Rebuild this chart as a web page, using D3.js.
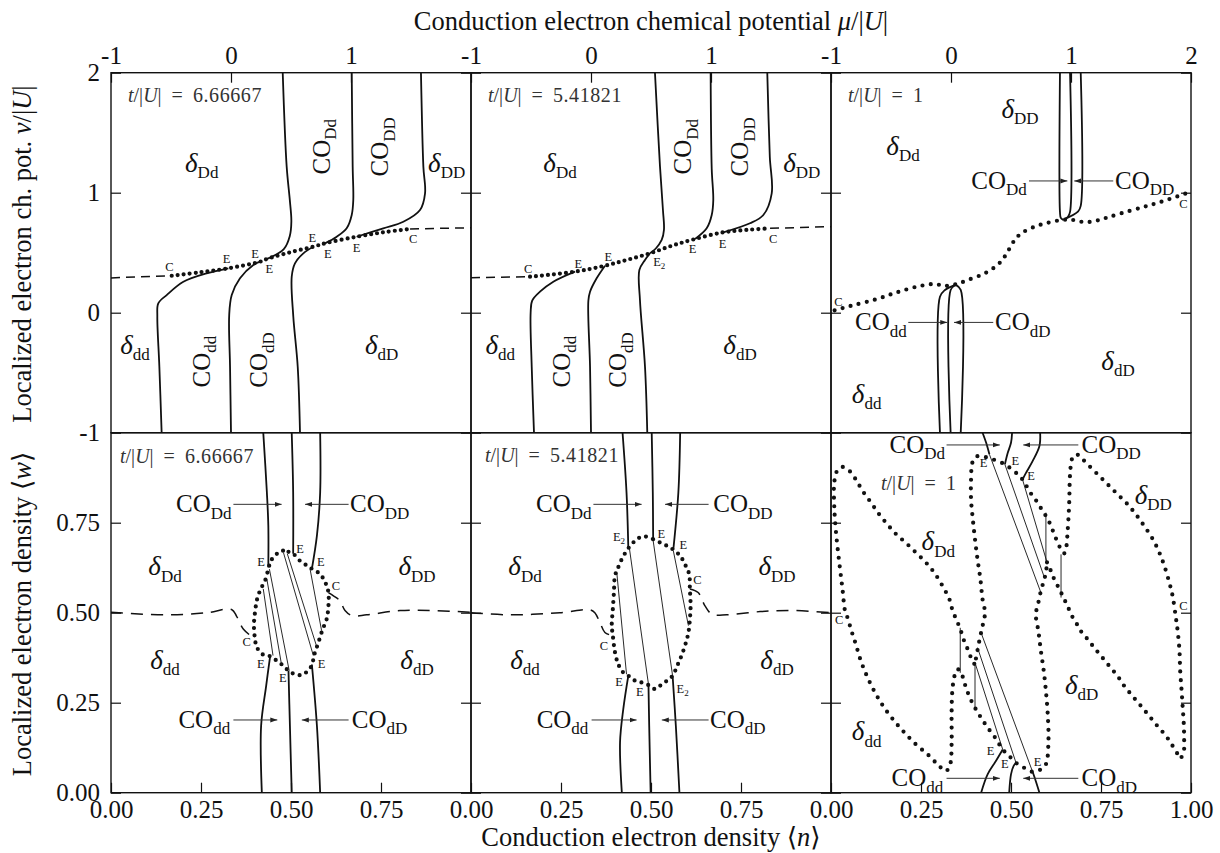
<!DOCTYPE html>
<html><head><meta charset="utf-8">
<script src="https://cdn.jsdelivr.net/npm/d3@7"></script>
<style>
body{margin:0;background:#fff;}
svg, svg text, svg tspan{font-family:"Liberation Serif","DejaVu Serif",serif !important;}
svg text{fill:#111;}
.tick text{font-size:25px;}
</style></head><body><svg id="c" width="1220" height="853" font-family="Liberation Serif"></svg>
<script>
// ---------------- DATA ----------------
const tValues = ["6.66667","5.41821","1"];
const muTickLabels = [[-1,0,1],[-1,0,1],[-1,0,1,2]];
const nuTickLabels = [-1,0,1,2];
const nTickLabels = [[0,0.25,0.5,0.75],[0,0.25,0.5,0.75],[0,0.25,0.5,0.75,1]];
const wTickLabels = [0,0.25,0.5,0.75];

// top row (mu, nu) — panel t=6.66667
const a1Dot = [[-0.494,0.308],[-0.258,0.337],[-0.022,0.370],[0.242,0.425],[0.297,0.447],[0.492,0.503],[0.686,0.55],[0.783,0.578],[1.047,0.633],[1.269,0.67],[1.492,0.698]];
const a1DashL = [[-1,0.29],[-0.494,0.308]];
const a1DashR = [[1.492,0.698],[2,0.708]];
const a1L1 = [[-0.578,-1],[-0.597,-0.45],[-0.614,-0.03],[-0.606,0.078],[-0.536,0.147],[-0.397,0.258],[-0.203,0.328],[-0.022,0.370]];
const a1L2 = [[0,-1],[-0.008,-0.45],[-0.015,-0.02],[0.006,0.147],[0.075,0.287],[0.186,0.398],[0.242,0.425]];
const a1L3 = [[0.575,-1],[0.556,-0.45],[0.519,-0.03],[0.506,0.30],[0.533,0.411],[0.603,0.495],[0.686,0.55]];
const a1U1 = [[0.431,2],[0.464,1.217],[0.49,0.94],[0.503,0.76],[0.49,0.64],[0.44,0.53],[0.297,0.447]];
const a1U2 = [[1.006,2],[1.014,1.217],[1.019,0.939],[1.006,0.814],[0.964,0.703],[0.881,0.633],[0.783,0.578]];
const a1U3 = [[1.583,2],[1.603,1.217],[1.617,0.995],[1.575,0.856],[1.436,0.758],[1.269,0.703],[1.047,0.633]];

// panel t=5.41821
const a2Dot = [[-0.508,0.30],[-0.133,0.342],[0.117,0.392],[0.30,0.44],[0.492,0.495],[0.68,0.56],[0.867,0.614],[1.103,0.67],[1.30,0.69],[1.492,0.703]];
const a2DashL = [[-1,0.292],[-0.508,0.30]];
const a2DashR = [[1.492,0.703],[2,0.717]];
const a2L1 = [[-0.475,-1],[-0.494,-0.45],[-0.503,0.0],[-0.49,0.1],[-0.425,0.175],[-0.314,0.258],[-0.133,0.342]];
const a2L2 = [[0,-1],[-0.008,-0.45],[-0.022,0.1],[-0.008,0.175],[0.047,0.287],[0.117,0.392]];
const a2L3 = [[0.469,-1],[0.45,-0.45],[0.408,0.106],[0.403,0.356],[0.45,0.44],[0.492,0.495]];
const a2U1 = [[0.533,2],[0.575,1.217],[0.60,0.85],[0.608,0.69],[0.589,0.606],[0.54,0.535],[0.492,0.495]];
const a2U2 = [[0.997,2],[1.006,1.2],[1.019,0.939],[1.006,0.814],[0.964,0.703],[0.867,0.614]];
const a2U3 = [[1.469,2],[1.49,1.3],[1.506,0.995],[1.436,0.814],[1.325,0.745],[1.103,0.67]];

// panel t=1
const a3Dot = [[-0.97,0.02],[-0.84,0.056],[-0.63,0.11],[-0.45,0.17],[-0.27,0.22],[-0.136,0.239],[-0.053,0.223],[0.05,0.24],[0.142,0.273],[0.281,0.328],[0.39,0.40],[0.447,0.467],[0.531,0.606],[0.586,0.661],[0.697,0.717],[0.808,0.75],[0.919,0.772],[1.0,0.775],[1.086,0.758],[1.169,0.758],[1.278,0.786],[1.417,0.828],[1.611,0.883],[1.753,0.925],[1.961,0.995]];
const a3Va = [[0.908,2],[0.908,0.84],[0.915,0.79],[0.936,0.772]];
const a3Vb = [[0.992,2],[0.992,0.84],[0.975,0.80],[0.94,0.775]];
const a3Vc = [[1.081,2],[1.081,0.89],[1.06,0.845],[0.945,0.78]];
const a3Wa = [[-0.092,-1],[-0.092,0.133],[-0.05,0.189],[0.035,0.232]];
const a3Wb = [[-0.003,-1],[-0.003,0.189],[0.035,0.232]];
const a3Wc = [[0.081,-1],[0.081,0.19],[0.04,0.232]];

// bottom row (n, w) — panel t=6.66667
const b1Ell = [[0.474,0.672],[0.493,0.669],[0.506,0.664],[0.525,0.644],[0.544,0.631],[0.558,0.622],[0.581,0.607],[0.597,0.58],[0.604,0.556],[0.604,0.519],[0.599,0.482],[0.588,0.454],[0.576,0.417],[0.564,0.381],[0.558,0.354],[0.544,0.336],[0.53,0.327],[0.511,0.329],[0.493,0.339],[0.477,0.354],[0.46,0.367],[0.442,0.379],[0.423,0.383],[0.405,0.404],[0.4,0.427],[0.397,0.464],[0.4,0.501],[0.406,0.538],[0.416,0.566],[0.428,0.589],[0.437,0.621],[0.444,0.644],[0.46,0.663]];
const b1U1 = [[0.423,1.0],[0.433,0.834],[0.437,0.742],[0.437,0.626]];
const b1U2 = [[0.502,1.0],[0.506,0.834],[0.506,0.664]];
const b1U3 = [[0.581,1.0],[0.581,0.834],[0.572,0.714],[0.558,0.622]];
const b1L1 = [[0.419,0],[0.417,0.186],[0.431,0.297],[0.442,0.379]];
const b1L2 = [[0.502,0],[0.497,0.186],[0.493,0.339]];
const b1L3 = [[0.581,0],[0.572,0.186],[0.558,0.356]];
const b1Ties = [[[0.423,0.566],[0.45,0.381]],[[0.433,0.593],[0.474,0.354]],[[0.44,0.621],[0.495,0.339]],[[0.479,0.667],[0.562,0.381]],[[0.49,0.663],[0.572,0.404]],[[0.553,0.621],[0.585,0.45]]];
const b1DashL = [[0,0.501],[0.155,0.494],[0.266,0.5],[0.335,0.509],[0.349,0.49],[0.368,0.454],[0.4,0.427]];
const b1DashR = [[0.604,0.556],[0.618,0.547],[0.636,0.533],[0.65,0.506],[0.669,0.492],[0.71,0.494],[0.803,0.506],[0.896,0.506],[1.0,0.501]];

// panel t=5.41821
const b2Ell = [[0.483,0.712],[0.506,0.704],[0.525,0.695],[0.544,0.686],[0.562,0.675],[0.581,0.658],[0.594,0.635],[0.606,0.607],[0.608,0.566],[0.61,0.519],[0.608,0.482],[0.604,0.445],[0.597,0.417],[0.585,0.381],[0.573,0.353],[0.56,0.325],[0.544,0.311],[0.525,0.297],[0.511,0.288],[0.493,0.299],[0.474,0.306],[0.456,0.311],[0.437,0.325],[0.423,0.334],[0.409,0.357],[0.4,0.39],[0.394,0.436],[0.391,0.464],[0.394,0.51],[0.397,0.556],[0.4,0.603],[0.407,0.621],[0.419,0.649],[0.437,0.679],[0.456,0.7],[0.469,0.709]];
const b2U1 = [[0.421,1.0],[0.432,0.834],[0.437,0.68]];
const b2U2 = [[0.502,1.0],[0.505,0.834],[0.506,0.704]];
const b2U3 = [[0.581,1.0],[0.576,0.834],[0.562,0.675]];
const b2L1 = [[0.419,0],[0.414,0.14],[0.423,0.232],[0.437,0.325]];
const b2L2 = [[0.499,0],[0.495,0.186],[0.493,0.299]];
const b2L3 = [[0.579,0],[0.569,0.186],[0.56,0.325]];
const b2Ties = [[[0.405,0.611],[0.432,0.329]],[[0.44,0.679],[0.493,0.301]],[[0.506,0.7],[0.56,0.325]],[[0.562,0.672],[0.604,0.464]]];
const b2DashL = [[0,0.5],[0.108,0.494],[0.247,0.5],[0.331,0.508],[0.344,0.5],[0.358,0.473],[0.372,0.445],[0.394,0.436]];
const b2DashR = [[0.608,0.566],[0.631,0.556],[0.65,0.519],[0.669,0.496],[0.71,0.494],[0.803,0.503],[0.895,0.506],[1.0,0.5]];

// panel t=1
const b3Left = [[0.398,0.358],[0.389,0.375],[0.380,0.398],[0.370,0.421],[0.361,0.449],[0.350,0.477],[0.338,0.505],[0.329,0.537],[0.310,0.574],[0.287,0.611],[0.264,0.639],[0.236,0.667],[0.208,0.694],[0.181,0.718],[0.157,0.745],[0.134,0.773],[0.111,0.806],[0.088,0.838],[0.069,0.870],[0.051,0.894],[0.032,0.905],[0.017,0.894],[0.009,0.861],[0.009,0.796],[0.014,0.722],[0.023,0.639],[0.032,0.565],[0.039,0.505],[0.046,0.486],[0.057,0.449],[0.069,0.412],[0.083,0.366],[0.102,0.319],[0.125,0.273],[0.148,0.236],[0.176,0.199],[0.204,0.167],[0.236,0.134],[0.269,0.106],[0.296,0.079],[0.319,0.060],[0.331,0.079],[0.335,0.134],[0.335,0.218],[0.337,0.282],[0.343,0.324],[0.352,0.343],[0.363,0.329],[0.372,0.301],[0.384,0.268],[0.4,0.236],[0.417,0.208],[0.435,0.181],[0.456,0.153],[0.477,0.120],[0.495,0.102],[0.514,0.083],[0.537,0.069],[0.56,0.058],[0.583,0.065],[0.597,0.079],[0.604,0.144],[0.602,0.218],[0.597,0.282],[0.591,0.338],[0.583,0.394],[0.576,0.449],[0.569,0.495],[0.576,0.528],[0.583,0.56],[0.591,0.588],[0.597,0.611],[0.600,0.640]];
const b3Right = [[0.600,0.640],[0.613,0.611],[0.62,0.593],[0.63,0.574],[0.639,0.556],[0.648,0.537],[0.657,0.519],[0.667,0.495],[0.681,0.472],[0.694,0.449],[0.713,0.426],[0.731,0.403],[0.75,0.38],[0.773,0.352],[0.796,0.324],[0.815,0.296],[0.838,0.268],[0.861,0.241],[0.884,0.213],[0.907,0.185],[0.931,0.157],[0.949,0.13],[0.963,0.107],[0.970,0.095],[0.98,0.116],[0.981,0.144],[0.98,0.19],[0.977,0.236],[0.974,0.282],[0.970,0.338],[0.968,0.394],[0.963,0.449],[0.958,0.486],[0.949,0.546],[0.94,0.583],[0.926,0.63],[0.912,0.667],[0.894,0.704],[0.87,0.741],[0.847,0.773],[0.824,0.801],[0.796,0.829],[0.769,0.856],[0.741,0.884],[0.713,0.912],[0.694,0.931],[0.681,0.940],[0.669,0.926],[0.665,0.898],[0.663,0.861],[0.662,0.815],[0.66,0.769],[0.657,0.722],[0.654,0.685],[0.648,0.665],[0.639,0.676],[0.63,0.694],[0.62,0.718],[0.611,0.741],[0.6,0.764],[0.588,0.782],[0.574,0.806],[0.56,0.824],[0.546,0.847],[0.532,0.870],[0.519,0.884],[0.5,0.9],[0.483,0.912],[0.463,0.921],[0.444,0.928],[0.426,0.933],[0.407,0.935],[0.396,0.926],[0.391,0.907],[0.389,0.870],[0.389,0.815],[0.394,0.759],[0.4,0.704],[0.407,0.648],[0.415,0.593],[0.421,0.537],[0.428,0.5],[0.424,0.477],[0.419,0.454],[0.414,0.431],[0.409,0.407],[0.405,0.384],[0.4,0.361]];
const b3U1 = [[0.421,1.0],[0.431,0.972],[0.44,0.94]];
const b3U2 = [[0.503,1.0],[0.5,0.972],[0.491,0.944],[0.483,0.912]];
const b3U3 = [[0.581,1.0],[0.579,0.963],[0.56,0.921],[0.542,0.889],[0.532,0.870]];
const b3L1 = [[0.417,0],[0.435,0.051],[0.458,0.088],[0.477,0.12]];
const b3L2 = [[0.495,0],[0.5,0.051],[0.507,0.074],[0.514,0.083]];
const b3L3 = [[0.579,0],[0.569,0.032],[0.56,0.058]];
const b3Ties = [[[0.417,0.444],[0.56,0.058]],[[0.407,0.403],[0.514,0.083]],[[0.4,0.361],[0.477,0.12]],[[0.44,0.94],[0.583,0.556]],[[0.483,0.912],[0.593,0.597]],[[0.532,0.870],[0.6,0.64]],[[0.359,0.458],[0.359,0.333]],[[0.4,0.361],[0.4,0.236]],[[0.597,0.778],[0.597,0.644]],[[0.639,0.662],[0.639,0.542]]];

// ---------------- ANNOTATIONS ----------------
const regionLabels = [
 [0,0,"δ","Dd",-0.244,1.231,0],[0,0,"CO","Dd",0.756,1.383,1],[0,0,"CO","DD",1.242,1.383,1],[0,0,"δ","DD",1.797,1.231,0],
 [0,0,"δ","dd",-0.8,-0.283,0],[0,0,"CO","dd",-0.244,-0.408,1],[0,0,"CO","dD",0.236,-0.394,1],[0,0,"δ","dD",1.256,-0.283,0],
 [1,0,"δ","Dd",-0.258,1.231,0],[1,0,"CO","Dd",0.769,1.383,1],[1,0,"CO","DD",1.242,1.383,1],[1,0,"δ","DD",1.756,1.231,0],
 [1,0,"δ","dd",-0.756,-0.283,0],[1,0,"CO","dd",-0.244,-0.408,1],[1,0,"CO","dD",0.228,-0.394,1],[1,0,"δ","dD",1.242,-0.283,0],
 [2,0,"δ","DD",0.575,1.681,0],[2,0,"δ","Dd",-0.4,1.373,0],[2,0,"δ","dD",1.392,-0.419,0],[2,0,"δ","dd",-0.703,-0.694,0],
 [0,1,"δ","Dd",0.15,0.623,0],[0,1,"δ","DD",0.85,0.623,0],[0,1,"δ","dd",0.15,0.364,0],[0,1,"δ","dD",0.85,0.364,0],
 [1,1,"δ","Dd",0.15,0.623,0],[1,1,"δ","DD",0.85,0.623,0],[1,1,"δ","dd",0.15,0.364,0],[1,1,"δ","dD",0.85,0.364,0],
 [2,1,"δ","DD",0.895,0.822,0],[2,1,"δ","Dd",0.298,0.693,0],[2,1,"δ","dD",0.696,0.294,0],[2,1,"δ","dd",0.099,0.165,0]
];
const arrowLabels = [
 [2,0,"Dd",0.631,1.098,"end",0.65,0.97],[2,0,"DD",1.367,1.098,"start",1.352,1.027],
 [2,0,"dd",-0.369,-0.081,"end",-0.356,-0.031],[2,0,"dD",0.367,-0.081,"start",0.352,0.025],
 [0,1,"Dd",0.335,0.801,"end",0.34,0.474],[0,1,"DD",0.664,0.801,"start",0.66,0.539],
 [0,1,"dd",0.331,0.202,"end",0.34,0.462],[0,1,"dD",0.669,0.202,"start",0.66,0.53],
 [1,1,"Dd",0.335,0.801,"end",0.34,0.474],[1,1,"DD",0.673,0.801,"start",0.66,0.539],
 [1,1,"dd",0.326,0.202,"end",0.335,0.46],[1,1,"dD",0.664,0.202,"start",0.66,0.53],
 [2,1,"Dd",0.317,0.966,"end",0.321,0.469],[2,1,"DD",0.696,0.966,"start",0.687,0.534],
 [2,1,"dd",0.312,0.04,"end",0.321,0.469],[2,1,"dD",0.696,0.04,"start",0.687,0.534]
];
const pointLabels = [
 [0,0,"C","",-0.514,0.383],[0,0,"E","",-0.036,0.453],[0,0,"E","",0.2,0.495],[0,0,"E","",0.319,0.37],
 [0,0,"E","",0.678,0.625],[0,0,"E","",0.806,0.495],[0,0,"E","",1.047,0.545],[0,0,"C","",1.519,0.62],
 [1,0,"C","",-0.523,0.37],[1,0,"E","",-0.106,0.412],[1,0,"E","",0.144,0.467],[1,0,"E","2",0.569,0.425],
 [1,0,"E","",0.847,0.537],[1,0,"E","",1.097,0.578],[1,0,"C","",1.519,0.62],
 [2,0,"C","",-0.939,0.092],[2,0,"C","",1.936,0.906],
 [0,1,"E","",0.417,0.642],[0,1,"E","",0.525,0.679],[0,1,"E","",0.583,0.642],[0,1,"C","",0.625,0.575],
 [0,1,"C","",0.377,0.419],[0,1,"E","",0.416,0.359],[0,1,"E","",0.477,0.319],[0,1,"E","",0.585,0.359],
 [1,1,"E","2",0.411,0.711],[1,1,"E","",0.529,0.721],[1,1,"E","",0.59,0.69],[1,1,"C","",0.629,0.591],
 [1,1,"C","",0.369,0.41],[1,1,"E","",0.411,0.308],[1,1,"E","",0.469,0.281],[1,1,"E","2",0.588,0.29],
 [2,1,"E","",0.424,0.917],[2,1,"E","",0.512,0.923],[2,1,"E","",0.556,0.88],
 [2,1,"E","",0.443,0.118],[2,1,"E","",0.483,0.081],[2,1,"E","",0.574,0.088],
 [2,1,"C","",0.023,0.48],[2,1,"C","",0.979,0.521]
];

// ---------------- DRAW ----------------
const FONT = "'Liberation Serif','DejaVu Serif',serif";
const svg = d3.select("#c");
const X0 = 111, Y0 = 72.7, PW = 360, PH = 360;
svg.append("defs").append("marker").attr("id","ah").attr("viewBox","0 0 10 10")
  .attr("refX",10).attr("refY",5).attr("markerWidth",7).attr("markerHeight",7)
  .attr("markerUnits","userSpaceOnUse").attr("orient","auto")
  .append("path").attr("d","M0,1.5 L10,5 L0,8.5 z").attr("fill","#222");

function panel(col,row){
  const x0 = X0 + col*PW, y0 = Y0 + row*PH;
  const dom = row===0 ? [-1,2] : [0,1];
  return {col,row,x0,y0,
    x: d3.scaleLinear(dom,[x0,x0+PW]),
    y: d3.scaleLinear(dom,[y0+PH,y0])};
}
const panels = [];
for (let r=0;r<2;r++) for (let c=0;c<3;c++) panels.push(panel(c,r));
const P = (c,r) => panels[r*3+c];

const curve = (p, closed) => d3.line().x(d=>p.x(d[0])).y(d=>p.y(d[1]))
   .curve(closed ? d3.curveCatmullRomClosed.alpha(0.5) : d3.curveCatmullRom.alpha(0.5));

const plot = svg.append("g");
function draw(p, pts, style, closed){
  const el = plot.append("path").attr("d", curve(p,closed)(pts)).attr("fill","none").attr("stroke","#111");
  if (style==="solid") el.attr("stroke-width",1.8);
  else if (style==="dash") el.attr("stroke-width",1.5).attr("stroke-dasharray","9 6");
  else if (style==="dashB") el.attr("stroke-width",1.5).attr("stroke-dasharray","12 8");
  else if (style.startsWith("dot")) {
    const sp = +style.slice(3);
    el.attr("stroke-width",4.2).attr("stroke-linecap","round").attr("stroke-dasharray",`0 ${sp}`);
  }
  return el;
}
function seg(p, s, w){
  plot.append("line").attr("x1",p.x(s[0][0])).attr("y1",p.y(s[0][1]))
    .attr("x2",p.x(s[1][0])).attr("y2",p.y(s[1][1])).attr("stroke","#111").attr("stroke-width",w||0.9);
}

[[P(0,0),a1L1,a1L2,a1L3,a1U1,a1U2,a1U3,a1Dot,a1DashL,a1DashR],
 [P(1,0),a2L1,a2L2,a2L3,a2U1,a2U2,a2U3,a2Dot,a2DashL,a2DashR]].forEach(([p,l1,l2,l3,u1,u2,u3,dot,dl,dr])=>{
  [l1,l2,l3,u1,u2,u3].forEach(c=>draw(p,c,"solid"));
  draw(p,dl,"dash"); draw(p,dr,"dash");
  draw(p,dot,"dot6");
});
{ const p=P(2,0); [a3Va,a3Vb,a3Vc,a3Wa,a3Wb,a3Wc].forEach(c=>draw(p,c,"solid")); draw(p,a3Dot,"dot8.3"); }

[[P(0,1),b1Ell,b1U1,b1U2,b1U3,b1L1,b1L2,b1L3,b1Ties,b1DashL,b1DashR],
 [P(1,1),b2Ell,b2U1,b2U2,b2U3,b2L1,b2L2,b2L3,b2Ties,b2DashL,b2DashR]].forEach(([p,ell,u1,u2,u3,l1,l2,l3,ties,dl,dr])=>{
  ties.forEach(s=>seg(p,s));
  [u1,u2,u3,l1,l2,l3].forEach(c=>draw(p,c,"solid"));
  draw(p,dl,"dashB"); draw(p,dr,"dashB");
  draw(p,ell,"dot7.2",true);
});
{ const p=P(2,1);
  b3Ties.forEach(s=>seg(p,s));
  [b3U1,b3U2,b3U3,b3L1,b3L2,b3L3].forEach(c=>draw(p,c,"solid"));
  draw(p,b3Left,"dot8.6"); draw(p,b3Right,"dot8.6");
}

// frames and axes
const axG = svg.append("g").attr("color","#111");
panels.forEach(p=>{
  axG.append("rect").attr("x",p.x0).attr("y",p.y0).attr("width",PW).attr("height",PH)
    .attr("fill","none").attr("stroke","#111").attr("stroke-width",1.4);
  const yt = p.row===0 ? nuTickLabels : wTickLabels;
  const xt = p.row===0 ? muTickLabels[p.col] : nTickLabels[p.col];
  const fmt = p.row===0 ? (d=>d<0?"-"+Math.abs(d):String(d)) : d3.format(".2f");
  axG.append("g").attr("transform",`translate(${p.x0},0)`)
    .call(d3.axisLeft(p.y).tickValues(yt).tickSize(-10).tickPadding(11)
      .tickFormat(p.col===0 ? fmt : ()=>""));
  axG.append("g").attr("transform",`translate(${p.x0+PW},0)`)
    .call(d3.axisRight(p.y).tickValues(yt).tickSize(-10).tickFormat(()=>""));
  if (p.row===0){
    axG.append("g").attr("transform",`translate(0,${p.y0})`)
      .call(d3.axisTop(p.x).tickValues(xt).tickSize(-10).tickPadding(9).tickFormat(fmt));
  } else {
    axG.append("g").attr("transform",`translate(0,${p.y0+PH})`)
      .call(d3.axisBottom(p.x).tickValues(xt).tickSize(-10).tickPadding(8).tickFormat(fmt));
  }
});
axG.selectAll(".domain").remove();
axG.selectAll("g").attr("font-family",FONT).attr("font-size",25);
axG.selectAll(".tick line").attr("stroke-width",1.2);
axG.selectAll(".tick text").attr("fill","#111").attr("font-family",FONT);

// labels
const lab = svg.append("g").attr("font-family",FONT);
function subText(t, main, sub, mainSize, subSize, italicMain){
  t.append("tspan").attr("font-size",mainSize).attr("font-style",italicMain?"italic":"normal").text(main);
  t.append("tspan").attr("font-size",subSize).attr("dy",subSize*0.38).text(sub);
}
regionLabels.forEach(([c,r,main,sub,a,b,rot])=>{
  const p=P(c,r), X=p.x(a), Y=p.y(b);
  const t = lab.append("text").attr("text-anchor","middle");
  if (rot){ t.attr("transform",`translate(${X},${Y}) rotate(-90)`).attr("y",8); }
  else { t.attr("x",X).attr("y",Y+7); }
  subText(t, main, sub, main==="δ"?27:25, 17, main==="δ");
});
arrowLabels.forEach(([c,r,sub,a,b,anchor,f,to])=>{
  const p=P(c,r), Y=p.y(b);
  const t = lab.append("text").attr("x",p.x(a)).attr("y",Y+8).attr("text-anchor",anchor);
  subText(t,"CO",sub,25,17,false);
  lab.append("line").attr("x1",p.x(f)).attr("y1",Y).attr("x2",p.x(to)).attr("y2",Y)
    .attr("stroke","#333").attr("stroke-width",1).attr("marker-end","url(#ah)");
});
pointLabels.forEach(([c,r,main,sub,a,b])=>{
  const p=P(c,r);
  const t = lab.append("text").attr("x",p.x(a)).attr("y",p.y(b)+4.5).attr("text-anchor","middle").attr("font-size",12.5);
  t.append("tspan").text(main);
  if (sub) t.append("tspan").attr("font-size",9).attr("dy",3).text(sub);
});
const tPos = [[0,0,17,29],[1,0,17,29],[2,0,17,29],[0,1,9,30.6],[1,1,14,29],[2,1,50,57]];
tPos.forEach(([c,r,dx,dy])=>{
  const p=P(c,r);
  const t = lab.append("text").attr("x",p.x0+dx).attr("y",p.y0+dy).attr("font-size",20).style("fill","#333");
  t.append("tspan").attr("font-style","italic").text("t");
  t.append("tspan").text("/|");
  t.append("tspan").attr("font-style","italic").text("U");
  t.append("tspan").text("|");
  t.append("tspan").attr("dx",10).text("=");
  t.append("tspan").attr("dx",10).attr("letter-spacing",0.6).text(tValues[c]);
});

function title(x,y,rot,parts){
  const t = svg.append("text").attr("text-anchor","middle").attr("font-size",26.5).attr("font-family",FONT)
    .attr("transform",`translate(${x},${y}) rotate(${rot})`);
  parts.forEach(([s,it])=>t.append("tspan").attr("font-style",it?"italic":"normal").text(s));
}
title(651,30,0,[["Conduction electron chemical potential ",0],["μ",1],["/|",0],["U",1],["|",0]]);
title(651,846,0,[["Conduction electron density ⟨",0],["n",1],["⟩",0]]);
title(31,254,-90,[["Localized electron ch. pot. ",0],["ν",1],["/|",0],["U",1],["|",0]]);
title(31,614,-90,[["Localized electron density ⟨",0],["w",1],["⟩",0]]);
</script></body></html>
